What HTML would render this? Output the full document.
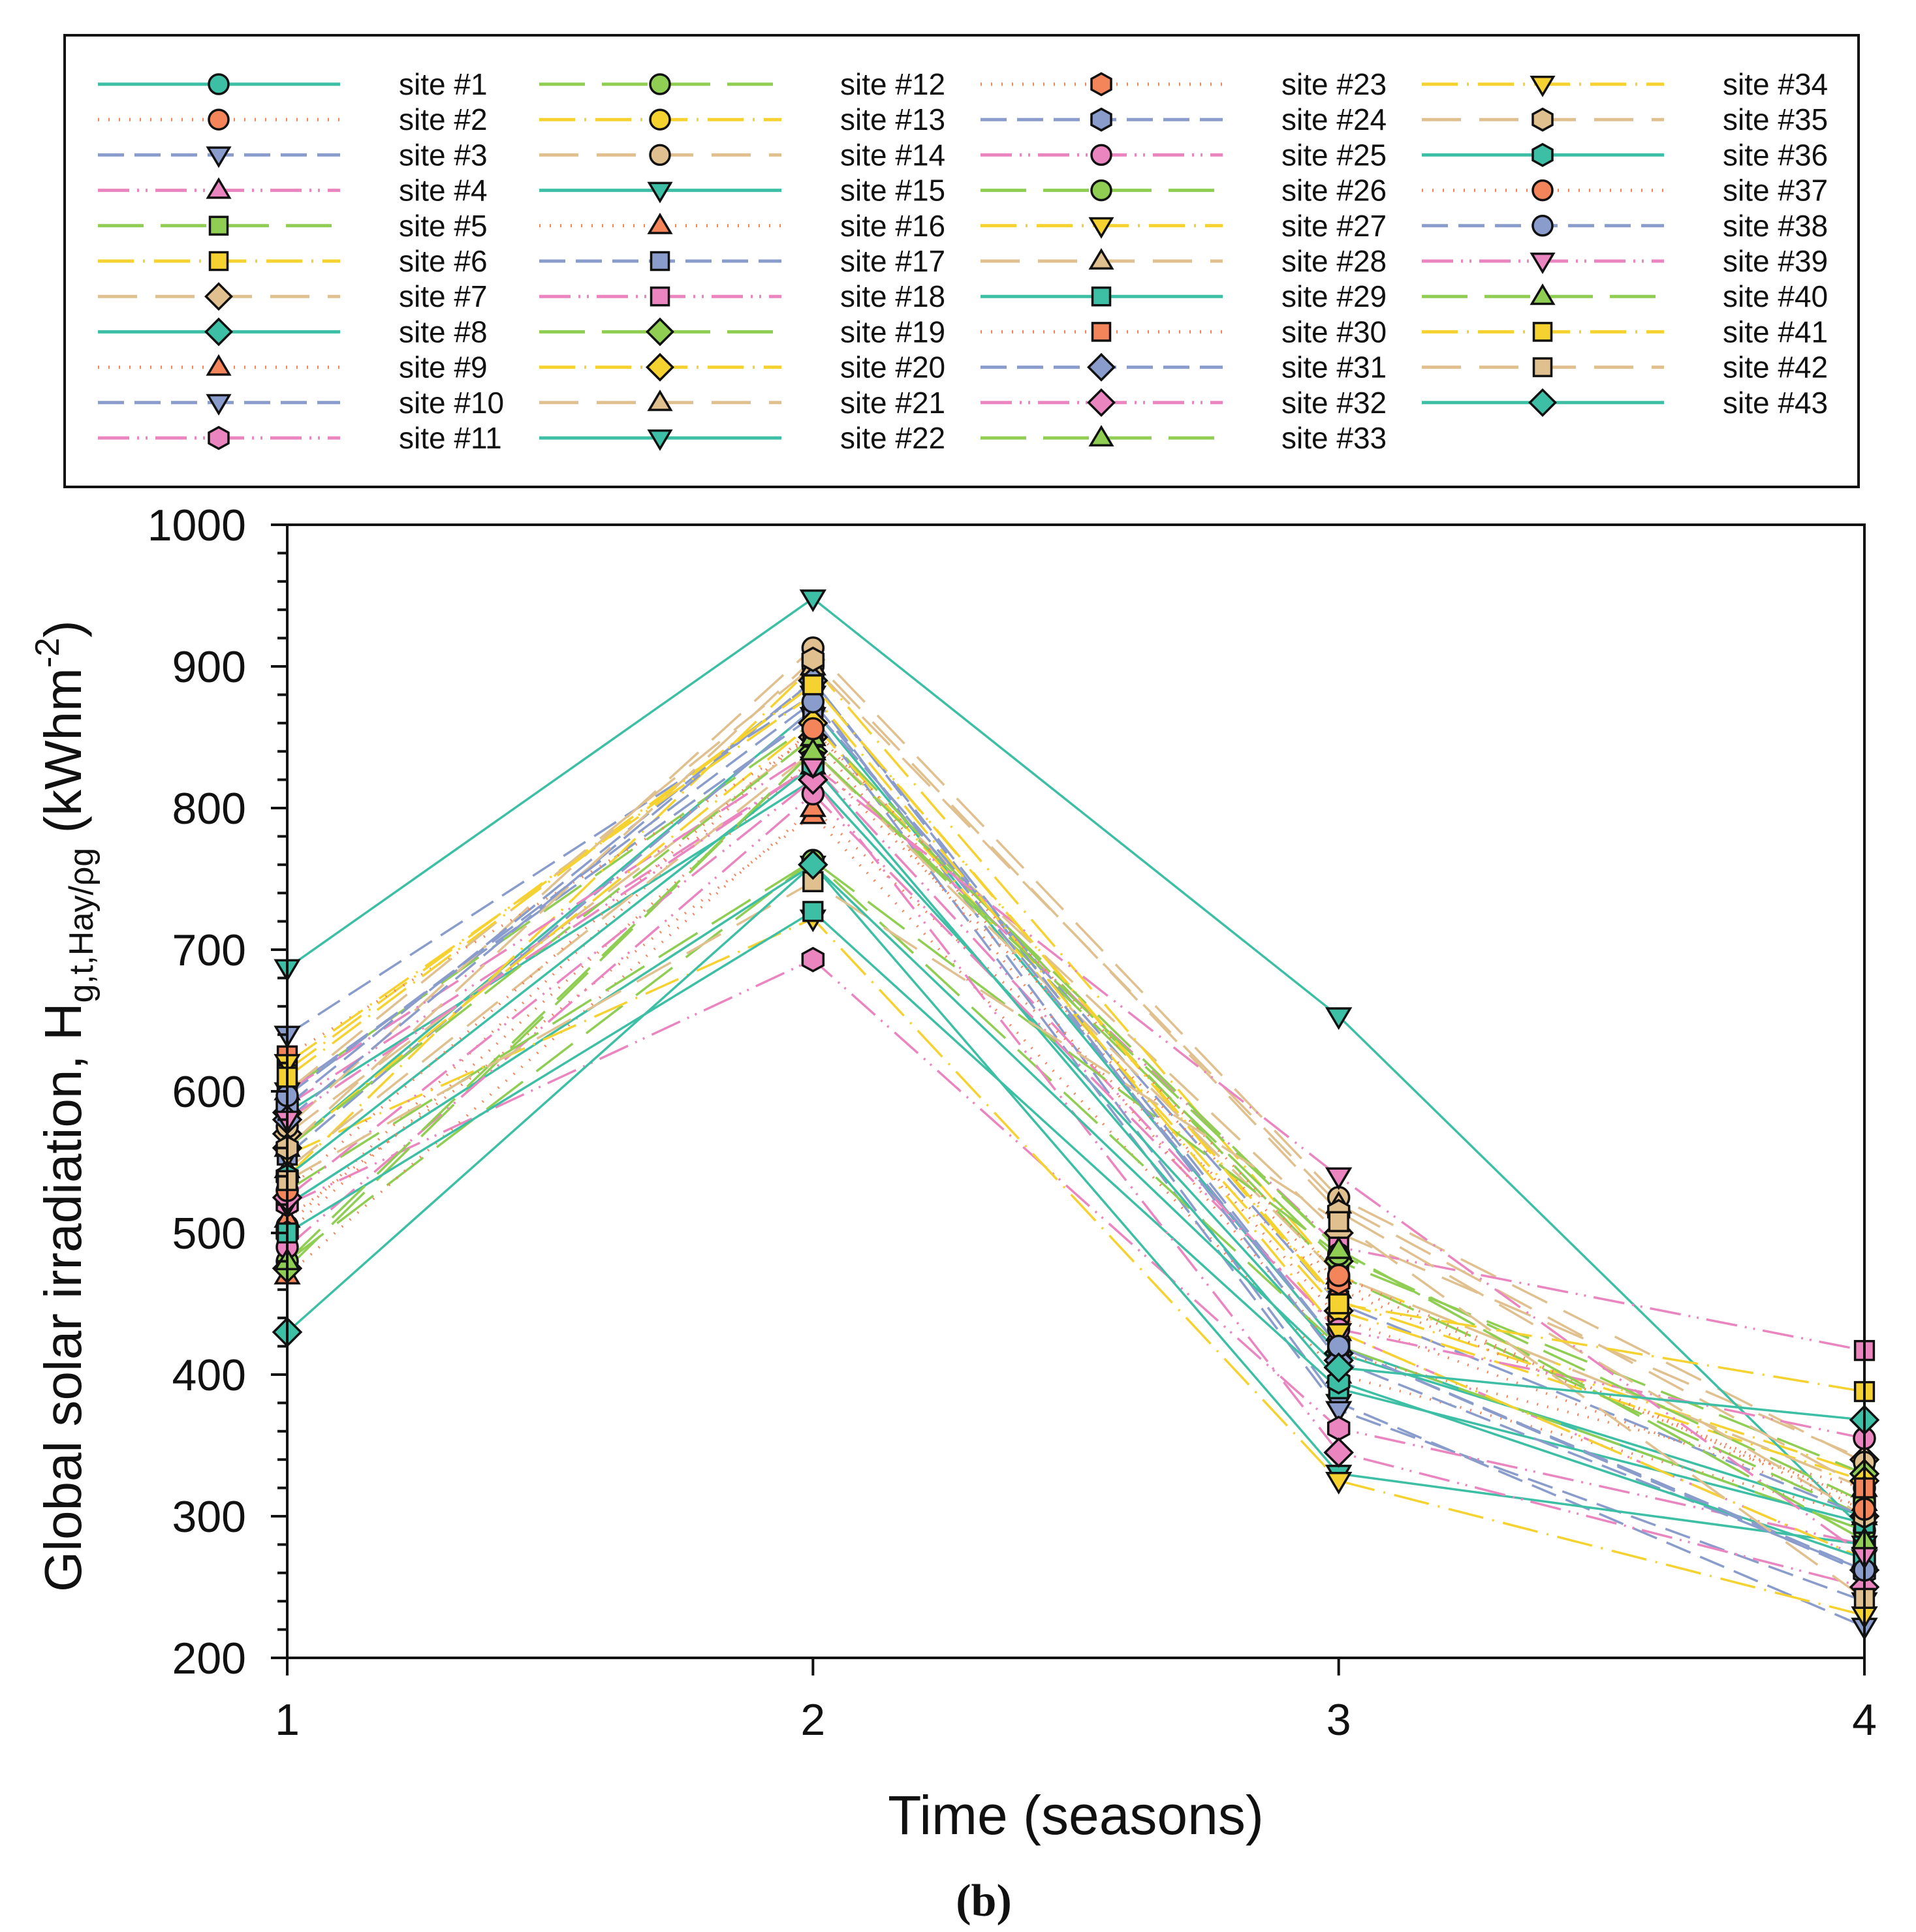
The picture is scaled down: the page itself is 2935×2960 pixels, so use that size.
<!DOCTYPE html>
<html><head><meta charset="utf-8">
<style>
html,body{margin:0;padding:0;background:#fff;}
svg{display:block;}
text{font-family:"Liberation Sans",Arial,sans-serif;fill:#111;}
</style></head>
<body>
<svg id="chart" xmlns="http://www.w3.org/2000/svg" width="2935" height="2960" viewBox="0 0 2935 2960">
  <rect x="0" y="0" width="2935" height="2960" fill="#fff"/>
  <rect x="99" y="54" width="2748" height="692" fill="none" stroke="#111" stroke-width="4"/>
  <g id="legend"></g>
  <g id="plot"></g>
  <g id="axes"></g>
  <text x="1648" y="2810" font-size="84" text-anchor="middle">Time (seasons)</text>
  <text transform="translate(124,2439) rotate(-90)" font-size="80">Global solar irradiation, H<tspan font-size="52" dy="18">g,t,Hay/ρg</tspan><tspan dy="-18"> (kWhm</tspan><tspan font-size="52" dy="-34">-2</tspan><tspan dy="34">)</tspan></text>
  <text x="1507" y="2935" font-size="70" font-weight="bold" text-anchor="middle" style="font-family:'Liberation Serif',serif">(b)</text>
</svg>
<script>
const categories = [1, 2, 3, 4];
const yTicks = [200, 300, 400, 500, 600, 700, 800, 900, 1000];
const siteNames = Array.from({length: 43}, (_, i) => 'site #' + (i + 1));
const s1 = [560,505,640,590,600,615,570,585,510,600,520,480,540,575,687,470,555,600,475,560,545,520,500,590,490,530,555,600,500,625,580,525,560,620,560,540,530,597,580,480,610,537,430];
const s2 = [870,856,880,830,860,887,850,820,795,865,693,763,900,913,948,800,870,840,840,860,840,760,835,890,810,763,722,900,727,850,890,820,850,880,905,830,856,875,830,840,887,748,760];
const s3 = [420,440,380,430,470,452,500,415,400,375,362,420,470,525,653,460,450,490,480,445,470,330,465,420,432,485,325,520,390,415,410,345,488,430,515,395,470,420,540,488,450,508,405];
const s4 = [290,305,222,270,300,330,340,300,300,240,280,290,320,338,290,310,300,417,330,325,320,280,310,260,355,310,230,320,295,320,262,250,283,270,300,270,305,262,272,283,388,242,368];

const NS = 'http://www.w3.org/2000/svg';
const colors = ['#3dbfa5','#f4845a','#8a9ccc','#ea85c0','#8fce53','#f6d230','#e0c08e'];
const dashes = ['', '2 14', '40 16', '48 12 3 10 3 12', '70 26', '55 14 3 14', '60 28'];
const markerTypes = ['circle','circle','dtri','utri','square','square','diamond','diamond','utri','dtri','hex','circle','circle','circle','dtri','utri','square','square','diamond','diamond','utri','dtri','hex','hex','circle','circle','dtri','utri','square','square','diamond','diamond','utri','dtri','hex','hex','circle','circle','dtri','utri','square','square','diamond'];

const X0 = 440, X1 = 2856, Y0 = 2540, Y1 = 804;
function xScale(c){ return X0 + (c - 1) * (X1 - X0) / 3; }
function yScale(v){ return Y0 - (v - 200) * (Y0 - Y1) / 800; }

function mk(tag, attrs, parent){
  const e = document.createElementNS(NS, tag);
  for (const k in attrs) e.setAttribute(k, attrs[k]);
  parent.appendChild(e);
  return e;
}
function drawMarker(parent, type, cx, cy, r, fill){
  let e;
  const st = {fill: fill, stroke: '#111', 'stroke-width': 3.5};
  if (type === 'circle') e = mk('circle', Object.assign({cx: cx, cy: cy, r: r}, st), parent);
  else if (type === 'square') e = mk('rect', Object.assign({x: cx - r*0.9, y: cy - r*0.9, width: r*1.8, height: r*1.8}, st), parent);
  else {
    let pts;
    if (type === 'dtri') pts = [[cx-r*1.1,cy-r*0.75],[cx+r*1.1,cy-r*0.75],[cx,cy+r*1.1]];
    else if (type === 'utri') pts = [[cx-r*1.1,cy+r*0.75],[cx+r*1.1,cy+r*0.75],[cx,cy-r*1.1]];
    else if (type === 'diamond') pts = [[cx,cy-r*1.3],[cx+r*1.3,cy],[cx,cy+r*1.3],[cx-r*1.3,cy]];
    else pts = [[cx,cy-r*1.1],[cx+r,cy-r*0.55],[cx+r,cy+r*0.55],[cx,cy+r*1.1],[cx-r,cy+r*0.55],[cx-r,cy-r*0.55]];
    e = mk('polygon', Object.assign({points: pts.map(p => p.join(',')).join(' ')}, st), parent);
  }
  return e;
}

const axes = document.getElementById('axes');
const frame = mk('rect', {x: X0, y: Y1, width: X1 - X0, height: Y0 - Y1, fill: 'none', stroke: '#111', 'stroke-width': 4}, axes);


for (let v = 200; v <= 1000; v += 20) {
  const major = v % 100 === 0;
  const t = mk('line', {x1: X0 - (major ? 25 : 15), x2: X0, y1: yScale(v), y2: yScale(v), stroke: '#111', 'stroke-width': 4}, axes);
  
  
}
yTicks.forEach(v => {
  const t = mk('text', {x: 377, y: yScale(v) + 24, 'font-size': 68, 'text-anchor': 'end'}, axes);
  t.textContent = v;
  
  
});
categories.forEach(c => {
  const tk = mk('line', {x1: xScale(c), x2: xScale(c), y1: Y0, y2: Y0 + 27, stroke: '#111', 'stroke-width': 4}, axes);
  
  
  const t = mk('text', {x: xScale(c), y: 2658, 'font-size': 68, 'text-anchor': 'middle'}, axes);
  t.textContent = c;
  
  
});

const plot = document.getElementById('plot');
const lineG = mk('g', {}, plot);
const markG = mk('g', {}, plot);
siteNames.forEach((name, i) => {
  const vals = [s1[i], s2[i], s3[i], s4[i]];
  const ci = i % 7;
  const pl = mk('polyline', {points: categories.map((c, k) => xScale(c) + ',' + yScale(vals[k])).join(' '), fill: 'none', stroke: colors[ci], 'stroke-width': ci === 1 ? 4 : 3.5, 'stroke-dasharray': dashes[ci]}, lineG);
  
  
});
siteNames.forEach((name, i) => {
  const vals = [s1[i], s2[i], s3[i], s4[i]];
  const ci = i % 7;
  categories.forEach((c, k) => {
    const m = drawMarker(markG, markerTypes[i], xScale(c), yScale(vals[k]), 16, colors[ci]);
    
    
  });
});

const legend = document.getElementById('legend');
siteNames.forEach((name, i) => {
  const col = Math.floor(i / 11), row = i % 11;
  const lx = 150 + col * 676, ly = 129 + row * 54.2;
  const ci = i % 7;
  const g = mk('g', {}, legend);
  
  
  mk('line', {x1: lx, x2: lx + 371, y1: ly, y2: ly, stroke: colors[ci], 'stroke-width': 5, 'stroke-dasharray': dashes[ci]}, g);
  drawMarker(g, markerTypes[i], lx + 185, ly, 15, colors[ci]);
  const t = mk('text', {x: 611 + col * 676, y: ly + 16, 'font-size': 46}, g);
  t.textContent = name;
});
</script>
</body></html>
